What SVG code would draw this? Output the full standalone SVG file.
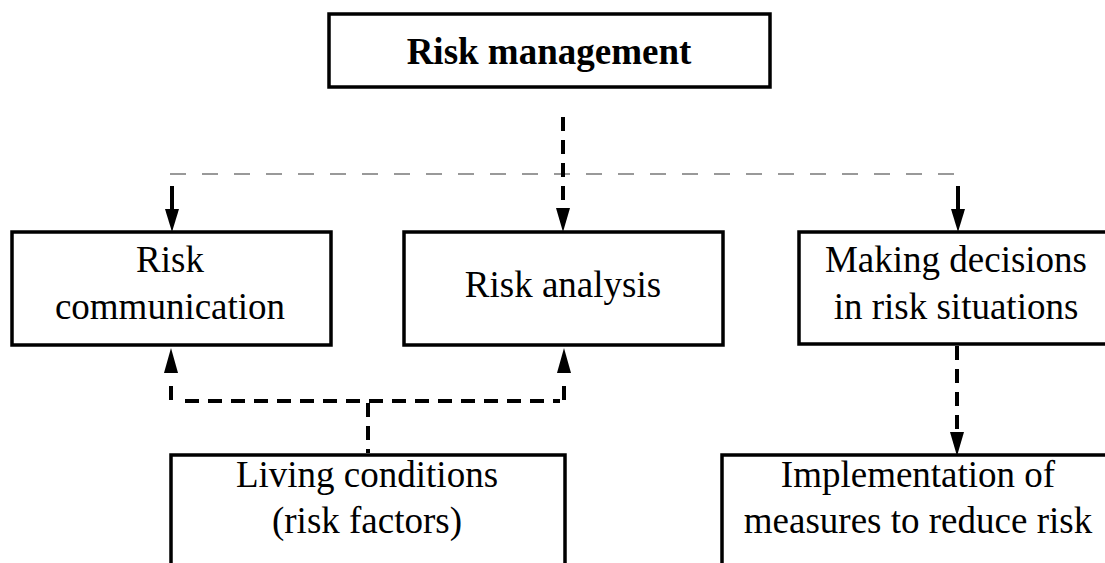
<svg xmlns="http://www.w3.org/2000/svg" width="1105" height="563" viewBox="0 0 1105 563">
<style>
.box{fill:#fff;stroke:#000;stroke-width:3.5}
.t{font-family:"Liberation Serif","Times New Roman",serif;font-size:37px;fill:#000;text-anchor:middle}
.b{font-weight:bold}
.dk{fill:none;stroke:#000;stroke-width:4;stroke-dasharray:14 9}
.gr{fill:none;stroke:#999;stroke-width:2;stroke-dasharray:16 16}
</style>
<rect width="1105" height="563" fill="#fff"/>
<g id="connectors">
<path class="gr" d="M170,174 H962"/>
<path class="dk" d="M563,117 V208"/>
<path d="M556,208 L570,208 L563,232 Z" fill="#000"/>
<path d="M172,186 V210" stroke="#000" stroke-width="4"/>
<path d="M165,209 L179,209 L172,232 Z" fill="#000"/>
<path d="M958,186 V210" stroke="#000" stroke-width="4"/>
<path d="M951,209 L965,209 L958,232 Z" fill="#000"/>
<path class="dk" d="M171,400 V380 M564,400 V380"/>
<path d="M164,373 L178,373 L171,348 Z" fill="#000"/>
<path d="M557,373 L571,373 L564,348 Z" fill="#000"/>
<path class="dk" d="M185,401 H560"/>
<path class="dk" d="M368,403 V453"/>
<path class="dk" d="M957,346 V432"/>
<path d="M950,432 L964,432 L957,456 Z" fill="#000"/>
</g>
<g id="risk-management">
<rect class="box" x="329" y="14" width="441" height="73"/>
<text class="t b" x="549" y="64">Risk management</text>
</g>
<g id="risk-communication">
<rect class="box" x="12" y="232" width="319" height="113"/>
<text class="t" x="170" y="272">Risk</text>
<text class="t" x="170" y="319">communication</text>
</g>
<g id="risk-analysis">
<rect class="box" x="404" y="232" width="319" height="113"/>
<text class="t" x="563" y="297">Risk analysis</text>
</g>
<g id="making-decisions">
<rect class="box" x="799" y="232" width="320" height="112"/>
<text class="t" x="956" y="272">Making decisions</text>
<text class="t" x="956" y="319">in risk situations</text>
</g>
<g id="living-conditions">
<rect class="box" x="171" y="455" width="394" height="120"/>
<text class="t" x="367" y="487">Living conditions</text>
<text class="t" x="367" y="533">(risk factors)</text>
</g>
<g id="implementation">
<rect class="box" x="722" y="455" width="400" height="120"/>
<text class="t" x="918" y="487">Implementation of</text>
<text class="t" x="918" y="533">measures to reduce risk</text>
</g>
</svg>
